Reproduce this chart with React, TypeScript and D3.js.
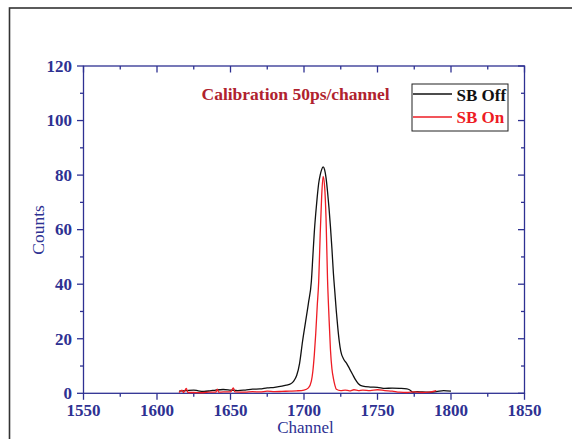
import React from "react";
import * as d3 from "d3";

const offChannels = [1615,1620,1625,1628,1632,1636,1640,1645,1650,1655,1660,1665,1670,1675,1680,1685,1688,1691,1693,1695,1697,1699,1701,1703,1705,1706,1707,1708,1709,1710,1711,1712,1713,1714,1715,1716,1717,1718,1719,1720,1721,1722,1723,1724,1725,1727,1729,1731,1733,1735,1737,1740,1745,1750,1755,1760,1765,1770,1772,1774,1777,1780,1785,1790,1795,1800];
const offCounts = [0.8,1.0,1.2,0.9,0.7,0.9,1.2,1.4,1.2,1.0,1.2,1.5,1.6,2.0,2.2,2.6,3.0,3.5,4.5,6.5,11,19,26,33,41,50,59,66,72,77,80,82,83,82,79,74,68,61,53,44,37,30,24,19,15.5,12.5,11,9,7,5,3.5,2.6,2.3,2.2,1.8,1.9,1.8,1.6,1.2,0.4,0.6,0.5,0.4,0.6,1.0,0.8];

const onChannels = [1615,1617,1618,1620,1621,1625,1630,1635,1640,1641,1642,1645,1650,1652,1653,1660,1665,1670,1675,1680,1685,1690,1695,1700,1703,1705,1706,1707,1708,1709,1710,1711,1712,1713,1714,1715,1716,1717,1718,1719,1720,1721,1722,1725,1728,1731,1734,1737,1740,1745,1750,1755,1760,1765,1770,1775,1780,1785,1790];
const onCounts = [0.3,1.2,0.3,1.8,0.3,0.3,0.2,0.4,0.4,1.5,0.4,0.5,0.5,2.0,0.5,0.4,0.6,0.5,0.8,0.6,0.7,0.8,0.9,1.2,2.0,4.5,8,14,22,32,41,58,72,79.5,76,64,42,28,16,9,5.5,3,1.5,1.0,1.2,0.9,1.3,1.0,1.2,1.0,1.3,1.0,0.8,0.4,0.3,0.5,0.3,0.4,1.0];

const xMajorTicks = [1550,1600,1650,1700,1750,1800,1850];
const xMinorTicks = [1575,1625,1675,1725,1775,1825];
const yMajorTicks = [0,20,40,60,80,100,120];
const yMinorTicks = [10,30,50,70,90,110];

const seriesNames = ["SB Off", "SB On"];
const titleText = "Calibration 50ps/channel";
const xLabel = "Channel";
const yLabel = "Counts";

const AXIS = "#2e3192";
const FONT = "'Liberation Serif', 'Times New Roman', serif";

export default function App() {
  const x = d3.scaleLinear().domain([1550, 1850]).range([83.5, 524.5]);
  const y = d3.scaleLinear().domain([0, 120]).range([393.3, 66]);
  const line = d3.line<[number, number]>().x(d => x(d[0])).y(d => y(d[1])).curve(d3.curveMonotoneX);
  const offPts = offChannels.map((c, i) => [c, offCounts[i]] as [number, number]);
  const onPts = onChannels.map((c, i) => [c, onCounts[i]] as [number, number]);
  const x0 = x.range()[0], x1 = x.range()[1];
  const y0 = y.range()[0], y1 = y.range()[1];
  const MAJ = 6.5, MIN = 3.5;
  return (
    <svg width={572} height={439} style={{ position: "absolute", left: 0, top: 0, background: "#fff" }}>
      <rect x={9.5} y={8} width={600} height={500} fill="none" stroke="#333" strokeWidth={1.6} />
      <rect x={x0} y={y1} width={x1 - x0} height={y0 - y1} fill="none" stroke={AXIS} strokeWidth={1.3} />
      {xMajorTicks.map(t => (
        <g key={"xm" + t}>
          <line x1={x(t)} x2={x(t)} y1={y0} y2={y0 + MAJ} stroke={AXIS} strokeWidth={1.3} />
          <line x1={x(t)} x2={x(t)} y1={y1} y2={y1 + MAJ} stroke={AXIS} strokeWidth={1.3} />
          <text x={x(t)} y={415.5} textAnchor="middle" fontFamily={FONT} fontWeight="bold" fontSize={17} fill={AXIS}>{t}</text>
        </g>
      ))}
      {xMinorTicks.map(t => (
        <g key={"xn" + t}>
          <line x1={x(t)} x2={x(t)} y1={y0} y2={y0 + MIN} stroke={AXIS} strokeWidth={1.3} />
          <line x1={x(t)} x2={x(t)} y1={y1} y2={y1 + MIN} stroke={AXIS} strokeWidth={1.3} />
        </g>
      ))}
      {yMajorTicks.map(t => (
        <g key={"ym" + t}>
          <line x1={x0 - MAJ} x2={x0} y1={y(t)} y2={y(t)} stroke={AXIS} strokeWidth={1.3} />
          <line x1={x1 - MAJ} x2={x1} y1={y(t)} y2={y(t)} stroke={AXIS} strokeWidth={1.3} />
          <text x={72} y={y(t) + 5.8} textAnchor="end" fontFamily={FONT} fontWeight="bold" fontSize={17} fill={AXIS}>{t}</text>
        </g>
      ))}
      {yMinorTicks.map(t => (
        <g key={"yn" + t}>
          <line x1={x0 - MIN} x2={x0} y1={y(t)} y2={y(t)} stroke={AXIS} strokeWidth={1.3} />
          <line x1={x1 - MIN} x2={x1} y1={y(t)} y2={y(t)} stroke={AXIS} strokeWidth={1.3} />
        </g>
      ))}
      <path d={line(offPts) || ""} fill="none" stroke="#111" strokeWidth={1.3} strokeLinejoin="round" />
      <path d={line(onPts) || ""} fill="none" stroke="#ee1c24" strokeWidth={1.3} strokeLinejoin="round" />
      <text x={305.5} y={433} textAnchor="middle" fontFamily={FONT} fontSize={17} fill={AXIS}>{xLabel}</text>
      <text transform="translate(44,230) rotate(-90)" textAnchor="middle" fontFamily={FONT} fontSize={17.5} fill={AXIS}>{yLabel}</text>
      <text x={201.5} y={99.5} fontFamily={FONT} fontWeight="bold" fontSize={17.5} fill="#b0222e">{titleText}</text>
      <rect x={412} y={84} width={96} height={47} fill="#fff" stroke="#222" strokeWidth={1} />
      <line x1={413} x2={452} y1={94} y2={94} stroke="#111" strokeWidth={1.3} />
      <text x={456.5} y={100.5} fontFamily={FONT} fontWeight="bold" fontSize={17} fill="#111">{seriesNames[0]}</text>
      <line x1={413} x2={452} y1={117} y2={117} stroke="#ee1c24" strokeWidth={1.3} />
      <text x={456.5} y={123} fontFamily={FONT} fontWeight="bold" fontSize={17} fill="#ee1c24">{seriesNames[1]}</text>
    </svg>
  );
}
